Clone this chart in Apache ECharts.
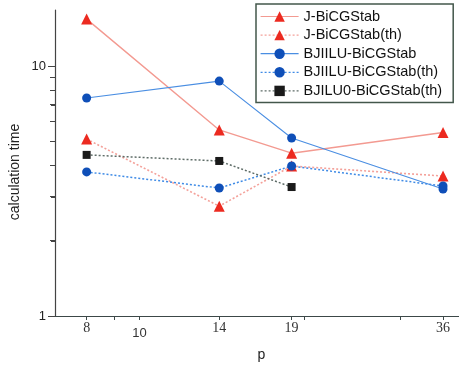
<!DOCTYPE html>
<html><head><meta charset="utf-8">
<script src="https://cdn.jsdelivr.net/npm/echarts@6/dist/echarts.min.js"></script>
<style>html,body{margin:0;padding:0;background:#fff}#c{width:459px;height:365px}</style>
</head><body><div id="c"></div>
<script>
// Number of processors p
const pValues = [8, 14, 19, 36];
// Calculation time per solver
const jBiCGStab = [15.4, 5.55, 4.48, 5.42];
const jBiCGStabTh = [5.1, 2.75, 3.98, 3.63];
const bjiiluBiCGStab = [7.45, 8.7, 5.15, 3.22];
const bjiiluBiCGStabTh = [3.77, 3.25, 3.98, 3.31];
const bjilu0BiCGStabTh = [4.41, 4.17, 3.28];
// Axis ticks and labels
const xTickValues = [8, 9, 10, 14, 19, 20, 30, 36];
const xLabelValues = [8, 10, 14, 19, 36];
const yLabelValues = [1, 10];
const yMinorTickValues = [2, 3, 4, 5, 6, 7, 8, 9];

const X_MIN = 7, X_MAX = 40, Y_MIN = 1, Y_MAX = 16.75;

const pair = arr => arr.map((v, i) => [pValues[i], v]);

const RED_MK = '#ec2a20', RED_LN = '#f39a91', RED_DOT = '#f4a19a';
const BLUE_MK = '#0f4fb8', BLUE_LN = '#4a8ee2', BLUE_DOT = '#3f8be6';
const BLK_MK = '#1a1a1a', GRAY_DOT = '#5f6d68', AXIS_COLOR = '#444444';
const SANS = 'Liberation Sans, Arial, sans-serif';
const SERIF = 'Liberation Serif, Times New Roman, serif';

function line(name, data, lnColor, lnType, lnWidth, symbol, size, mkColor) {
  return {
    name, type: 'line', data, symbol, symbolSize: size,
    lineStyle: { color: lnColor, type: lnType, width: lnWidth },
    itemStyle: { color: mkColor },
    emphasis: { disabled: true }, z: 3
  };
}

// y-axis ticks: decades first (long), then the values in between (short)
const yTickValues = yLabelValues.concat(yMinorTickValues);
const yTickData = yTickValues.map(v => [X_MIN, v]);

const chart = echarts.init(document.getElementById('c'));
chart.setOption({
  animation: false,
  backgroundColor: '#fff',
  grid: { left: 55, top: 10, bottom: 49, right: -9, outerBoundsMode: 'none' },
  xAxis: {
    type: 'log', min: X_MIN, max: X_MAX,
    name: 'p', nameLocation: 'middle', nameGap: 32,
    nameTextStyle: { fontFamily: SANS, fontSize: 14, color: '#222' },
    axisLine: { lineStyle: { color: '#3c4848', width: 1.2 } },
    axisTick: { show: true, length: 4, inside: false, customValues: xTickValues, lineStyle: { color: '#3c4848' } },
    axisLabel: {
      customValues: xLabelValues, margin: 5,
      formatter: v => (Math.round(v) === 10 ? '{b|10}' : '{a|' + Math.round(v) + '}'),
      rich: {
        a: { fontFamily: SERIF, fontSize: 14, color: '#333' },
        b: { fontFamily: SANS, fontSize: 13, color: '#333', padding: [6, 0, 0, 0] }
      }
    },
    splitLine: { show: false }
  },
  yAxis: {
    type: 'log', min: Y_MIN, max: Y_MAX,
    axisLine: { show: true, lineStyle: { color: AXIS_COLOR, width: 1.2 } },
    axisTick: { show: true, length: 5, customValues: yTickValues, lineStyle: { color: AXIS_COLOR } },
    axisLabel: { margin: 9, fontFamily: SANS, fontSize: 13, color: '#222',
      formatter: v => (yLabelValues.indexOf(Math.round(v * 1000) / 1000) >= 0 ? String(Math.round(v)) : '') },
    splitLine: { show: false }
  },
  legend: {
    left: 256, top: 4, orient: 'vertical',
    padding: [5, 11, 4, 4],
    itemWidth: 38, itemHeight: 13, itemGap: 3.6,
    borderColor: '#43574b', borderWidth: 1.5,
    backgroundColor: '#fff',
    lineStyle: { width: 1.2 },
    textStyle: { fontFamily: SANS, fontSize: 14.5, color: '#111', lineHeight: 15 },
    data: ['J-BiCGStab', 'J-BiCGStab(th)', 'BJIILU-BiCGStab', 'BJIILU-BiCGStab(th)', 'BJILU0-BiCGStab(th)']
  },
  graphic: [{
    type: 'text', x: 15, y: 172, rotation: Math.PI / 2,
    style: { text: 'calculation time', fontFamily: SANS, fontSize: 14, fill: '#222', align: 'center', verticalAlign: 'middle' }
  }],
  series: [
    {
      type: 'custom', name: 'yTicks', data: yTickData, clip: false,
      renderItem: (params, api) => {
        const pt = api.coord([api.value(0), api.value(1)]);
        const len = params.dataIndex < yLabelValues.length ? 7 : 4;
        const y = Math.round(pt[1]) + 0.5;
        return { type: 'line', shape: { x1: pt[0] - len, y1: y, x2: pt[0], y2: y },
          style: { stroke: AXIS_COLOR, lineWidth: 1 } };
      }
    },
    line('J-BiCGStab', pair(jBiCGStab), RED_LN, 'solid', 1.4, 'triangle', 11, RED_MK),
    line('J-BiCGStab(th)', pair(jBiCGStabTh), RED_DOT, [2, 2], 1.6, 'triangle', 11, RED_MK),
    line('BJIILU-BiCGStab', pair(bjiiluBiCGStab), BLUE_LN, 'solid', 1.1, 'circle', 9, BLUE_MK),
    line('BJIILU-BiCGStab(th)', pair(bjiiluBiCGStabTh), BLUE_DOT, [2, 2], 1.5, 'circle', 9, BLUE_MK),
    line('BJILU0-BiCGStab(th)', pair(bjilu0BiCGStabTh), GRAY_DOT, [2, 2], 1.5, 'rect', 8, BLK_MK)
  ]
});
</script></body></html>
